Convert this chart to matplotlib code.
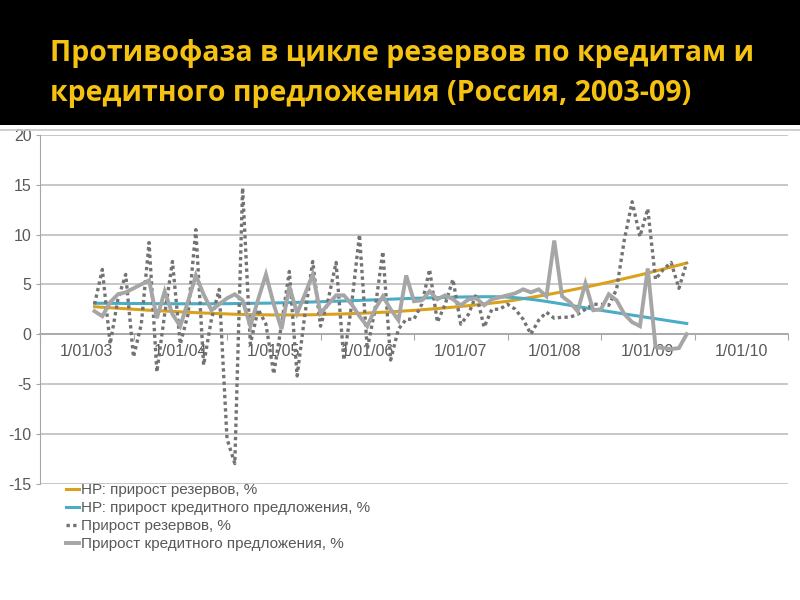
import numpy as np
import matplotlib
matplotlib.use('Agg')
import matplotlib.pyplot as plt
from matplotlib.lines import Line2D
from matplotlib.patches import Rectangle

plt.rcParams['axes.unicode_minus'] = False
plt.rcParams['font.family'] = ['Liberation Sans', 'DejaVu Sans']

# month index, 0 = Jan 2003; data run Aug 2003 .. Dec 2009
months = np.arange(7, 84)
year_labels = ['1/01/03', '1/01/04', '1/01/05', '1/01/06',
               '1/01/07', '1/01/08', '1/01/09', '1/01/10']

# Прирост резервов, %
reserves = [3.0, 6.5, -1.0, 3.5, 6.0, -2.3, 1.0, 9.2, -3.8, 2.0, 7.3, -1.0,
            2.0, 10.5, -3.1, 1.5, 4.5, -10.5, -13.0, 14.7, -1.0, 2.5, 1.0, -4.0,
            1.0, 6.3, -4.2, 2.0, 7.3, 0.8, 3.5, 7.2, -2.6, 3.0, 10.0, -1.5,
            2.5, 8.3, -2.6, 0.5, 1.5, 1.5, 3.0, 6.5, 1.2, 3.0, 5.5, 1.0,
            2.0, 4.0, 0.7, 2.5, 2.5, 3.0, 2.5, 1.5, 0.0, 1.4, 2.2, 1.6,
            1.7, 1.7, 2.0, 2.5, 3.0, 3.0, 2.9, 4.5, 9.5, 13.3, 9.8, 12.6,
            5.5, 6.5, 7.2, 4.6, 7.2]

# Прирост кредитного предложения, %
credit = [2.3, 1.8, 3.2, 4.0, 4.2, 4.6, 5.0, 5.4, 1.6, 4.3, 2.0, 0.8,
          3.3, 5.9, 4.0, 2.4, 3.0, 3.6, 4.0, 3.4, 0.8, 3.5, 6.0, 3.0,
          0.5, 4.8, 2.1, 4.0, 6.0, 2.1, 3.0, 3.9, 3.9, 3.0, 1.8, 0.8,
          2.5, 3.8, 2.5, 1.4, 5.9, 3.3, 3.4, 4.3, 3.5, 3.9, 3.5, 2.9,
          3.5, 3.6, 2.9, 3.5, 3.7, 3.9, 4.1, 4.5, 4.2, 4.5, 3.8, 9.4,
          3.8, 3.2, 2.3, 5.1, 2.4, 2.5, 4.0, 3.4, 2.0, 1.2, 0.8, 6.6,
          -1.3, -1.4, -1.5, -1.4, 0.0]

# НР: прирост резервов, %
hp_reserves = [2.75, 2.70, 2.65, 2.60, 2.55, 2.50, 2.45, 2.40, 2.36, 2.32, 2.28, 2.24,
               2.20, 2.16, 2.12, 2.09, 2.06, 2.03, 2.00, 1.98, 1.96, 1.95, 1.94, 1.93,
               1.93, 1.93, 1.93, 1.94, 1.95, 1.96, 1.99, 2.01, 2.03, 2.06, 2.09, 2.12,
               2.16, 2.20, 2.24, 2.29, 2.34, 2.39, 2.45, 2.51, 2.57, 2.64, 2.71, 2.78,
               2.86, 2.94, 3.03, 3.12, 3.21, 3.30, 3.43, 3.56, 3.69, 3.82, 3.95, 4.10,
               4.25, 4.40, 4.56, 4.72, 4.88, 5.05, 5.22, 5.40, 5.58, 5.76, 5.94, 6.14,
               6.34, 6.54, 6.74, 6.94, 7.14]

# НР: прирост кредитного предложения, %
hp_credit = [3.10, 3.10, 3.09, 3.09, 3.08, 3.08, 3.07, 3.07, 3.06, 3.06, 3.05, 3.05,
             3.05, 3.05, 3.05, 3.05, 3.06, 3.06, 3.07, 3.08, 3.09, 3.10, 3.11, 3.13,
             3.15, 3.17, 3.19, 3.21, 3.23, 3.26, 3.28, 3.31, 3.33, 3.36, 3.39, 3.42,
             3.45, 3.48, 3.51, 3.54, 3.57, 3.60, 3.62, 3.65, 3.67, 3.69, 3.71, 3.73,
             3.74, 3.75, 3.76, 3.76, 3.75, 3.72, 3.66, 3.59, 3.50, 3.40, 3.28, 3.16,
             3.03, 2.90, 2.77, 2.64, 2.51, 2.39, 2.27, 2.15, 2.03, 1.91, 1.79, 1.67,
             1.55, 1.43, 1.31, 1.19, 1.07]

labels = ['НР: прирост резервов, %',
          'НР: прирост кредитного предложения, %',
          'Прирост резервов, %',
          'Прирост кредитного предложения, %']

title1 = 'Противофаза в цикле резервов по кредитам и'
title2 = 'кредитного предложения (Россия, 2003-09)'

W, H = 800, 600
fig = plt.figure(figsize=(8, 6), dpi=100, facecolor='white')

# black title band
fig.add_artist(Rectangle((0, 1 - 125 / H), 1, 125 / H, transform=fig.transFigure,
                         facecolor='black', edgecolor='none', zorder=0))
fig.add_artist(Line2D([0, 1], [1 - 130 / H] * 2, color='#c8c8c8', lw=1.2))

t1 = fig.text(50 / W, 1 - 61 / H, title1, color='#F5C211', fontsize=21,
              fontweight='bold', family='Open Sans', va='baseline')
t2 = fig.text(50 / W, 1 - 101 / H, title2, color='#F5C211', fontsize=21,
              fontweight='bold', family='Open Sans', va='baseline')
# fit title width to the reference
fig.canvas.draw()
w1 = t1.get_window_extent().width
size = 21 * 702 / w1
t1.set_fontsize(size)
t2.set_fontsize(size)

ax = fig.add_axes([40 / W, 1 - 483.5 / H, 748 / W, (483.5 - 135) / H])
ax.set_xlim(0, 96)
ax.set_ylim(-15, 20)

ax.plot(months, hp_reserves, color='#DBA11C', lw=2.2, zorder=3)
ax.plot(months, hp_credit, color='#4BACC6', lw=2.2, zorder=4)
ax.plot(months, reserves, color='#737373', lw=2.4, linestyle=(0, (1, 1)),
        dash_capstyle='butt', zorder=5)
ax.plot(months, credit, color='#a6a6a6', lw=2.8, solid_joinstyle='miter', zorder=6)

ax.set_yticks(range(-15, 21, 5))
ax.grid(axis='y', color='#bdbdbd', lw=1.2, zorder=1)
for s in ['top', 'right']:
    ax.spines[s].set_visible(False)
ax.spines['left'].set_color('#a6a6a6')
ax.spines['bottom'].set_position(('data', 0))
ax.spines['bottom'].set_color('#a6a6a6')
ax.spines['bottom'].set_linewidth(1.2)

ax.set_xticks(range(0, 97, 12))
ax.set_xticklabels([])
ax.set_xticks(range(6, 96, 12), minor=True)
ax.set_xticklabels(year_labels, minor=True)
ax.tick_params(axis='x', which='major', length=4, color='#a6a6a6', direction='out')
ax.tick_params(axis='x', which='minor', length=0, pad=7, labelsize=11.5, labelcolor='#595959')
ax.tick_params(axis='y', length=3, color='#a6a6a6', pad=3, labelsize=11.5, labelcolor='#595959')

handles = [Line2D([], [], color='#DBA11C', lw=2.2),
           Line2D([], [], color='#4BACC6', lw=2.2),
           Line2D([], [], color='#737373', lw=2.4, linestyle=(0, (1, 1)), dash_capstyle='butt'),
           Line2D([], [], color='#a6a6a6', lw=2.8)]
leg = fig.legend(handles, labels, loc='upper left', bbox_to_anchor=(66 / W, 1 - 483 / H),
                 frameon=False, fontsize=11, handlelength=0.85, handletextpad=0.1,
                 labelspacing=0.26, borderaxespad=0, borderpad=0)
for t in leg.get_texts():
    t.set_color('#595959')

fig.savefig('out.png', dpi=100, facecolor='white')
